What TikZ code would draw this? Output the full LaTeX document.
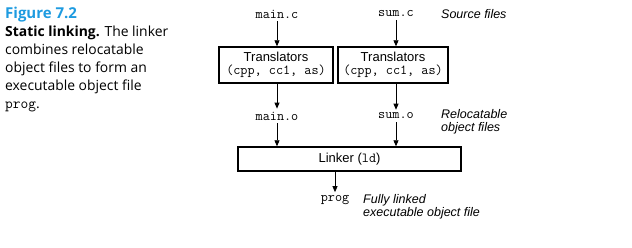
\documentclass[tikz,border=0pt]{standalone}
\usepackage{fontspec}
\setmainfont{Open Sans}
\setsansfont{Liberation Sans}
\usetikzlibrary{arrows.meta}
\definecolor{figblue}{HTML}{1E9BE0}
\newcommand{\mono}{\ttfamily\fontsize{13.8}{15}\selectfont}
\begin{document}
\begin{tikzpicture}[x=1pt,y=-1pt,
  box/.style={draw, line width=1.4pt, inner sep=0pt, font=\sffamily\fontsize{13}{15}\selectfont, align=center},
  file/.style={font=\mono, inner sep=3pt},
  lbl/.style={font=\sffamily\itshape\fontsize{12.5}{13.5}\selectfont, anchor=west, inner sep=0pt, align=left},
  arr/.style={line width=0.8pt, -{Triangle[length=6pt,width=5pt]}}]
\useasboundingbox (0,0) rectangle (632,248);
% caption
\node[anchor=base west, inner sep=0pt, text=figblue, font=\bfseries\fontsize{15}{16}\selectfont] (figt) at (5,19) {Figure 7.2};
\node[anchor=north west, inner sep=0pt, align=left, font=\fontsize{13.9}{18}\selectfont] (capt) at (5,26)
  {\textbf{Static linking.} The linker\\combines relocatable\\object files to form an\\executable object file\\{\ttfamily\fontsize{15}{18}\selectfont prog}.};
% source files
\node[file] (mainc) at (277,14) {main.c};
\node[file] (sumc) at (396,14) {sum.c};
\node[lbl] (srcl) at (441,14) {Source files};
% translators
\node[box, minimum width=114pt, minimum height=36pt] (t1) at (276,65)
  {Translators\\[-2pt]{\mono(cpp, cc1, as)}};
\node[box, minimum width=110pt, minimum height=36pt] (t2) at (393,65)
  {Translators\\[-2pt]{\mono(cpp, cc1, as)}};
% object files
\node[file] (maino) at (277,116) {main.o};
\node[file] (sumo) at (396,116) {sum.o};
\node[lbl] (rell) at (441,122) {Relocatable\\object files};
% linker
\node[box, minimum width=223pt, minimum height=24pt] (lk) at (349.5,159)
  {Linker ({\mono ld})};
\node[file] (prog) at (335,200) {prog};
\node[lbl] (exel) at (363,207) {Fully linked\\executable object file};
% arrows
\draw[arr] (mainc.south) -- (mainc.south |- t1.north);
\draw[arr] (sumc.south) -- (sumc.south |- t2.north);
\draw[arr] (maino.north |- t1.south) -- (maino.north);
\draw[arr] (sumo.north |- t2.south) -- (sumo.north);
\draw[arr] (maino.south) -- (maino.south |- lk.north);
\draw[arr] (sumo.south) -- (sumo.south |- lk.north);
\draw[arr] (prog.north |- lk.south) -- (prog.north);
\end{tikzpicture}
\end{document}
